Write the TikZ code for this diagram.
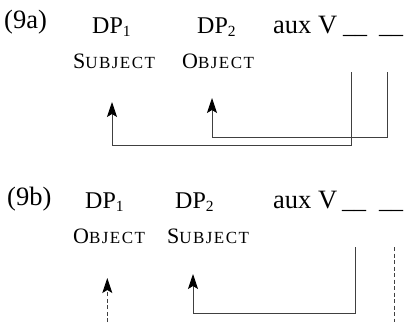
\documentclass[tikz,border=0pt]{standalone}
\usepackage{fontspec}
\setmainfont{Liberation Serif}
\newfontfamily\lsfont[LetterSpace=8.5]{Liberation Serif}
\usetikzlibrary{arrows.meta}
\newcommand{\fsc}[2]{{\lsfont\fontsize{22}{22}\selectfont #1\fontsize{17}{17}\selectfont #2}}
\newcommand{\DPsub}[1]{{\fontsize{24}{24}\selectfont DP}\raisebox{-3.5pt}{\fontsize{15.5}{15.5}\selectfont #1}}
\tikzset{
  txt/.style={anchor=base west, inner sep=0pt, font=\fontsize{26.5}{26.5}\selectfont},
  gap/.style={anchor=base west, inner sep=0pt, font=\fontsize{24}{24}\selectfont},
  lbl/.style={anchor=base west, inner sep=0pt},
  conn/.style={draw=black!75, line width=0.9pt, line cap=butt},
  arr/.style={conn, arrows={-Stealth[length=15pt, width=10pt, inset=3pt, color=black]}},
  dsh/.style={dash pattern=on 4pt off 2.5pt}
}
\begin{document}
\begin{tikzpicture}[x=1pt, y=-1pt]
\useasboundingbox (0,0) rectangle (404,322);
% (9a)
\node[txt] (la) at (4,28) {(9a)};
\node[txt] (a1) at (92,33) {\DPsub{1}};
\node[txt] (a2) at (197,33) {\DPsub{2}};
\node[txt] (av) at (273,33) {aux V};
\node[gap] (ag1) at (343,33) {\_\_};
\node[gap] (ag2) at (379,33) {\_\_};
\node[lbl] (as) at (73,68) {\fsc{S}{UBJECT}};
\node[lbl] (ao) at (182,68) {\fsc{O}{BJECT}};
\coordinate (p1) at (351,72);
\coordinate (p2) at (351,145);
\coordinate (p3) at (112,145);
\coordinate (p4) at (112,102);
\coordinate (q1) at (387.5,72);
\coordinate (q2) at (387.5,137.5);
\coordinate (q3) at (212,137.5);
\coordinate (q4) at (212,98);
\draw[arr] (p1) -- (p2) -- (p3) -- (p4);
\draw[arr] (q1) -- (q2) -- (q3) -- (q4);
% (9b)
\node[txt] (lb) at (7,205) {(9b)};
\node[txt] (b1) at (85,208) {\DPsub{1}};
\node[txt] (b2) at (175,208) {\DPsub{2}};
\node[txt] (bv) at (273,208) {aux V};
\node[gap] (bg1) at (342,208) {\_\_};
\node[gap] (bg2) at (379,208) {\_\_};
\node[lbl] (bo) at (73,243) {\fsc{O}{BJECT}};
\node[lbl] (bs) at (167,243) {\fsc{S}{UBJECT}};
\coordinate (r1) at (355.7,247);
\coordinate (r2) at (355.7,313);
\coordinate (r3) at (193,313);
\coordinate (r4) at (193,274);
\draw[arr] (r1) -- (r2) -- (r3) -- (r4);
\coordinate (s1) at (394.3,247);
\coordinate (s2) at (394.3,322);
\draw[conn, dsh] (s1) -- (s2);
\coordinate (t1) at (107.3,322);
\coordinate (t2) at (107.3,278);
\draw[arr, dsh] (t1) -- (t2);
\end{tikzpicture}
\end{document}
